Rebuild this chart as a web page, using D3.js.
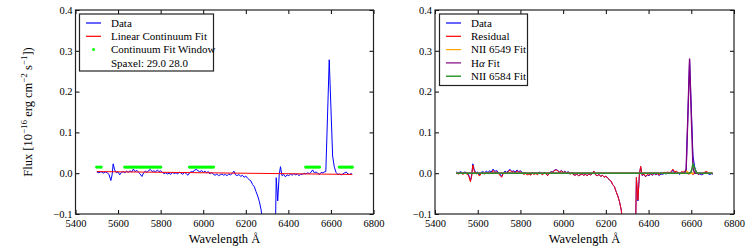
<!DOCTYPE html>
<html><head><meta charset="utf-8">
<script src="https://cdn.jsdelivr.net/npm/d3@7"></script>
<style>
body{margin:0;background:#fff;}
</style></head>
<body><svg id="c" width="750" height="250"></svg>
<script>
// ---------- data ----------
const wavelength = [5500,5510,5520,5530,5540,5550,5558,5566,5572,5577,5584,5592,5600,5608,5616,5624,5632,5640,5648,5656,5664,5672,5680,5688,5696,5704,5712,5720,5728,5736,5744,5752,5760,5768,5776,5784,5792,5800,5808,5816,5824,5832,5840,5848,5856,5864,5872,5880,5888,5896,5904,5912,5920,5928,5936,5944,5952,5960,5968,5976,5984,5992,6000,6008,6016,6024,6032,6040,6048,6056,6064,6072,6080,6088,6096,6104,6112,6120,6128,6136,6144,6152,6160,6168,6176,6184,6192,6200,6208,6216,6224,6232,6240,6248,6256,6264,6272,6280,6288,6300,6312,6324,6335,6343,6350,6357,6363,6370,6378,6386,6394,6402,6410,6418,6426,6434,6442,6450,6458,6466,6474,6482,6490,6498,6506,6514,6522,6530,6538,6546,6554,6562,6568,6576,6584,6592,6600,6608,6616,6624,6632,6640,6648,6656,6664,6672,6680,6688,6696,6700];
const flux = [0.003,0.001,0.004,0.000,0.003,0.001,-0.004,-0.018,-0.004,0.023,0.008,0.001,0.003,-0.004,0.002,0.004,0.001,0.005,0.002,0.006,0.003,0.010,0.004,0.007,0.002,-0.002,-0.008,0.001,0.005,0.002,0.007,0.009,0.004,0.006,0.003,0.008,0.004,0.006,0.002,-0.001,0.001,-0.002,0.000,-0.003,0.002,-0.001,0.001,-0.002,0.003,0.000,-0.003,0.002,-0.001,-0.005,0.001,0.004,0.003,0.008,0.009,0.006,0.003,0.007,0.002,0.005,0.001,0.004,-0.002,0.002,-0.003,-0.005,-0.002,-0.006,-0.004,-0.002,-0.005,-0.003,-0.006,-0.002,-0.004,-0.001,0.005,-0.004,-0.006,-0.003,-0.008,-0.005,-0.010,-0.007,-0.012,-0.016,-0.019,-0.028,-0.033,-0.045,-0.056,-0.070,-0.090,-0.125,-0.200,-0.300,-0.340,-0.320,-0.280,-0.011,-0.068,-0.004,0.016,-0.006,-0.003,-0.009,-0.004,-0.006,-0.002,-0.005,-0.001,-0.004,-0.002,-0.006,-0.002,-0.003,0.000,-0.002,0.001,-0.001,0.002,0.008,0.001,0.003,0.000,-0.003,0.002,0.001,0.003,0.004,0.140,0.278,0.160,0.042,0.015,0.002,-0.003,-0.002,-0.004,-0.002,0.001,0.003,-0.002,-0.003,-0.001,-0.003];
const residual = [0.000,-0.002,0.001,-0.003,0.000,-0.002,-0.007,-0.021,-0.007,0.020,0.005,-0.002,0.000,-0.007,-0.001,0.001,-0.002,0.002,-0.001,0.003,0.000,0.007,0.001,0.004,-0.001,-0.005,-0.010,-0.001,0.003,0.000,0.005,0.007,0.002,0.004,0.001,0.006,0.002,0.004,0.000,-0.003,-0.001,-0.004,-0.002,-0.005,0.000,-0.003,-0.001,-0.004,0.002,-0.001,-0.004,0.001,-0.002,-0.006,0.000,0.003,0.002,0.007,0.008,0.005,0.002,0.006,0.001,0.004,0.000,0.003,-0.003,0.001,-0.004,-0.005,-0.002,-0.006,-0.004,-0.002,-0.005,-0.003,-0.006,-0.002,-0.004,-0.001,0.005,-0.004,-0.006,-0.003,-0.008,-0.005,-0.010,-0.007,-0.012,-0.016,-0.019,-0.028,-0.033,-0.045,-0.056,-0.070,-0.090,-0.125,-0.200,-0.300,-0.340,-0.320,-0.280,-0.010,-0.066,-0.003,0.017,-0.005,-0.002,-0.008,-0.003,-0.005,-0.001,-0.004,0.000,-0.003,-0.001,-0.005,0.000,-0.001,0.002,0.000,0.003,0.001,0.004,0.010,0.003,0.005,0.002,-0.001,0.004,0.003,0.004,0.007,-0.002,-0.002,0.004,-0.004,0.002,0.003,-0.003,0.000,-0.002,0.000,0.003,0.005,0.000,-0.001,0.001,-0.001];
// linear continuum fit endpoints
const contWave = [5500, 6700];
const contFlux = [0.004, -0.003];
// continuum fit windows [start, end]
const fitWindows = [[5500,5525],[5625,5805],[5930,6055],[6480,6546],[6640,6705]];
const windowLevel = 0.015;
// emission line fits
const fitWave   = [5500,6560,6568,6576,6584,6592,6600,6608,6616,6624,6632,6700];
const nii6549   = [0,0,0.001,0.006,0.002,0,0,0,0,0,0,0];
const halpha    = [0,0,0,0.010,0.140,0.280,0.140,0.012,0,0,0,0];
const nii6584   = [0,0,0,0,0,0,0.004,0.023,0.012,0.001,0,0];
// axes
const xTicks = [5400,5600,5800,6000,6200,6400,6600,6800];
const yTicks = [-0.1,0.0,0.1,0.2,0.3,0.4];
const yTickLabels = ["\u22120.1","0.0","0.1","0.2","0.3","0.4"];
const legendLeft = ["Data","Linear Continuum Fit","Continuum Fit Window","Spaxel: 29.0 28.0"];
const legendRight = ["Data","Residual","NII 6549 Fit","H\u03b1 Fit","NII 6584 Fit"];

// ---------- drawing ----------
const FONT = "'Liberation Serif','DejaVu Serif',serif";
const svg = d3.select("#c");
const FS_TICK = 10.5, FS_LEG = 11, FS_LAB = 12.5;
const yTop = 10, yBot = 214;
const y = d3.scaleLinear().domain([-0.1,0.4]).range([yBot, yTop]);

function panel(id, x0, x1){
  const x = d3.scaleLinear().domain([5400,6800]).range([x0, x1]);
  const g = svg.append("g");
  g.append("clipPath").attr("id", id).append("rect")
    .attr("x", x0).attr("y", yTop).attr("width", x1-x0).attr("height", yBot-yTop);
  const plot = g.append("g").attr("clip-path", `url(#${id})`);
  const ax = (a, tr, labels) => {
    const s = g.append("g").attr("transform", tr).call(a);
    s.attr("font-family", FONT).attr("font-size", FS_TICK);
    s.select(".domain").remove();
    s.selectAll("line").attr("stroke","#000");
    s.selectAll("text").attr("fill","#000").style("font-family", FONT).style("font-size", FS_TICK+"px");
    if(!labels) s.selectAll("text").remove();
    return s;
  };
  ax(d3.axisBottom(x).tickValues(xTicks).tickFormat(d3.format("d")).tickSize(-4).tickPadding(5.5), `translate(0,${yBot})`, true);
  ax(d3.axisTop(x).tickValues(xTicks).tickSize(-4), `translate(0,${yTop})`, false);
  ax(d3.axisLeft(y).tickValues(yTicks).tickFormat((d,i)=>yTickLabels[i]).tickSize(-4).tickPadding(3), `translate(${x0},0)`, true);
  ax(d3.axisRight(y).tickValues(yTicks).tickSize(-4), `translate(${x1},0)`, false);
  return {x, g, plot, x0, x1};
}

function drawLine(p, xs, ys, color, w){
  const line = d3.line().x((d,i)=>p.x(xs[i])).y(d=>y(d));
  p.plot.append("path").attr("d", line(ys)).attr("fill","none")
    .attr("stroke", color).attr("stroke-width", w||1).attr("stroke-linejoin","round");
}

function frame(p){
  p.g.append("rect").attr("x", p.x0).attr("y", yTop).attr("width", p.x1-p.x0).attr("height", yBot-yTop)
    .attr("fill","none").attr("stroke","#222").attr("stroke-width",1.2);
}

// Left panel
const L = panel("clipL", 75.5, 373.5);
drawLine(L, wavelength, flux, "#0000ff", 1);
drawLine(L, contWave, contFlux, "#ff0000", 1);
const winPts = wavelength.filter(w => fitWindows.some(r => w >= r[0] && w <= r[1]));
L.plot.selectAll("circle.win").data(winPts).join("circle")
  .attr("cx", d=>L.x(d)).attr("cy", y(windowLevel)).attr("r", 1.7).attr("fill","#00ff00");
frame(L);

// Right panel
const R = panel("clipR", 435, 734);
drawLine(R, wavelength, flux, "#0000ff", 1);
drawLine(R, wavelength, residual, "#ff0000", 1);
drawLine(R, fitWave, nii6549, "#ffa500", 1.4);
drawLine(R, fitWave, halpha, "#800080", 1.4);
drawLine(R, fitWave, nii6584, "#2e8b2e", 1.6);
frame(R);

// Legends
function legend(x, yy, w, h, items, handles, textX, lineX0, lineX1, step){
  const g = svg.append("g");
  g.append("rect").attr("x", x).attr("y", yy).attr("width", w).attr("height", h)
    .attr("fill","#fff").attr("stroke","#222").attr("stroke-width",1.2);
  items.forEach((t,i)=>{
    const cy = yy + 9 + i*step;
    const hd = handles[i];
    if(hd && hd.type==="line"){
      g.append("line").attr("x1", lineX0).attr("x2", lineX1).attr("y1", cy).attr("y2", cy)
        .attr("stroke", hd.color).attr("stroke-width",1.2);
    } else if(hd && hd.type==="dot"){
      g.append("circle").attr("cx", (lineX0+lineX1)/2).attr("cy", cy).attr("r",1.5).attr("fill", hd.color);
    }
    const tx = g.append("text").attr("x", textX).attr("y", cy).attr("dy","0.35em")
      .style("font-family", FONT).style("font-size", FS_LEG+"px");
    if(t.indexOf("\u03b1")>=0){
      tx.append("tspan").text("H");
      tx.append("tspan").attr("font-style","italic").text("\u03b1");
      tx.append("tspan").text(" Fit");
    } else tx.text(t);
  });
}
legend(79.5, 14, 134, 57, legendLeft,
  [{type:"line",color:"#0000ff"},{type:"line",color:"#ff0000"},{type:"dot",color:"#00ff00"},null],
  111, 86, 101, 13.3);
legend(439.5, 14, 88, 71.5, legendRight,
  [{type:"line",color:"#0000ff"},{type:"line",color:"#ff0000"},{type:"line",color:"#ffa500"},{type:"line",color:"#800080"},{type:"line",color:"#008000"}],
  471, 446, 461, 13.3);

// Axis labels
[224.5, 584.5].forEach(cx=>{
  svg.append("text").attr("x", cx).attr("y", 243).attr("text-anchor","middle")
    .style("font-family", FONT).style("font-size", FS_LAB+"px").text("Wavelength \u00c5");
});
const yl = svg.append("text").attr("transform","translate(31.5,112) rotate(-90)")
  .attr("text-anchor","middle").style("font-family", FONT).style("font-size", FS_LAB+"px");
yl.append("tspan").text("Flux [10");
yl.append("tspan").attr("dy","-4.5").style("font-size","9px").text("\u221216");
yl.append("tspan").attr("dy","4.5").text(" erg cm");
yl.append("tspan").attr("dy","-4.5").style("font-size","9px").text("\u22122");
yl.append("tspan").attr("dy","4.5").text(" s");
yl.append("tspan").attr("dy","-4.5").style("font-size","9px").text("\u22121");
yl.append("tspan").attr("dy","4.5").text("])");
</script></body></html>
